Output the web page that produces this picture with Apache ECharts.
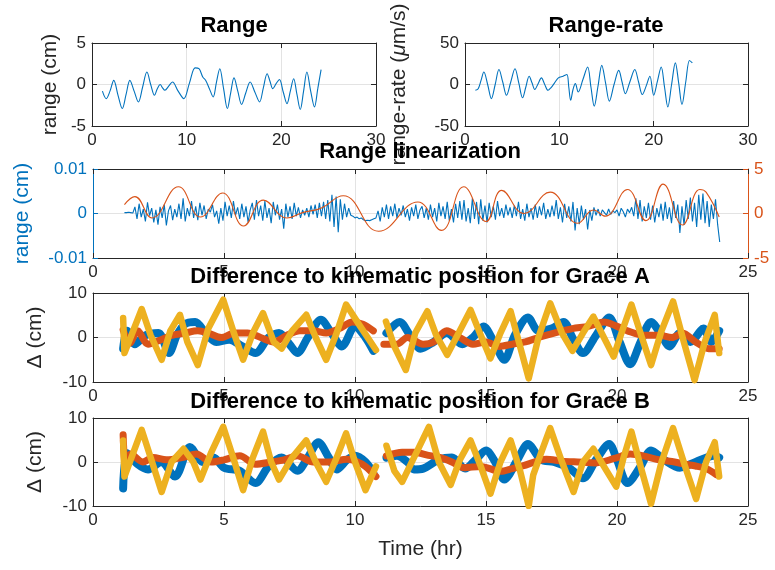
<!DOCTYPE html>
<html><head><meta charset="utf-8">
<script src="https://cdn.jsdelivr.net/npm/echarts@6/dist/echarts.min.js"></script>
<style>html,body{margin:0;padding:0;background:#fff}#c{width:775px;height:570px}</style>
</head><body><div id="c"></div>
<script>
// ---------- Panel 1: Range (cm) ----------
const rangeT = [1.1,1.5,1.9,2.3,2.75,3.2,3.6,4.0,4.45,4.9,5.35,5.8,6.2,6.6,6.9,7.2,7.45,7.7,8.1,8.5,9.1,9.7,10.3,10.9,11.3,11.7,12.0,12.4,12.8,13.15,13.5,13.9,14.3,14.65,15.0,15.4,15.8,16.25,16.7,17.2,17.7,18.1,18.5,18.8,19.1,19.45,19.8,20.2,20.6,20.95,21.3,21.65,22.0,22.35,22.7,23.1,23.5,23.85,24.2];
const rangeV = [-0.8,-1.7,-0.8,0.5,-1.3,-2.9,-1.2,0.5,-0.8,-2.1,-0.3,1.5,0.0,-1.3,-0.5,0.0,-0.4,-0.7,-0.2,0.3,-0.8,-1.7,0.2,2.0,1.9,0.9,0.5,-0.5,-1.5,0.3,1.9,-0.5,-2.9,-1.0,0.8,-0.8,-2.4,-1.0,0.3,-0.9,-2.1,-0.4,1.3,0.4,-0.5,0.1,0.6,-0.9,-2.3,-0.8,0.7,-1.2,-3.0,-0.8,1.5,-0.8,-2.7,-0.5,1.8];

// ---------- Panel 2: Range-rate (um/s) ----------
const rateT = [1.1,1.4,1.7,2.0,2.4,2.8,3.2,3.6,4.0,4.4,4.85,5.3,5.7,6.1,6.45,6.8,7.1,7.4,7.75,8.1,8.45,8.8,9.1,9.5,9.9,10.4,10.8,11.0,11.2,11.45,11.7,12.0,12.5,13.0,13.35,13.7,14.1,14.5,14.9,15.3,15.8,16.3,16.65,17.0,17.5,18.0,18.4,18.8,19.2,19.6,20.0,20.4,20.8,21.15,21.5,21.9,22.3,22.65,23.0,23.4,23.8,24.1];
const rateV = [-7,-5,5,15,0,-17,0,18,3,-13,3,19,2,-16,-3,10,2,-6,1,8,0,-7,-4,2,8,10,12,-3,-19,-6,1,-9,6,21,-3,-26,-2,23,2,-20,0,17,3,-11,4,18,3,-12,-2,10,-13,4,21,-3,-27,0,26,2,-24,3,29,26];

// ---------- Panel 3: Range linearization ----------
const linStartT = 1.2, linStepT = 0.08;
const linRangeV = [
 0.0002,0.0002,0.0003,0.0002,0.0001,
 0.0015,-0.0012,0.0022,-0.0008,0.0010,-0.0018,0.0025,-0.0005,0.0012,-0.0020,
 0.0008,-0.0025,0.0015,-0.0010,0.0020,-0.0027,0.0006,0.0018,-0.0015,0.0010,
 -0.0008,0.0022,-0.0012,0.0034,-0.0018,0.0012,-0.0006,0.0028,-0.0010,0.0016,
 -0.0015,0.0024,-0.0004,0.0018,-0.0012,0.0010,0.0003,0.0020,-0.0008,0.0006,
 -0.0023,0.0012,-0.0016,0.0026,-0.0006,0.0018,-0.0010,0.0028,-0.0004,0.0014,
 -0.0012,0.0022,-0.0008,0.0016,-0.0020,0.0008,0.0024,-0.0014,0.0030,-0.0006,
 0.0018,-0.0016,0.0028,-0.0010,0.0012,-0.0022,0.0026,-0.0004,0.0020,-0.0014,
 0.0010,-0.0034,0.0022,-0.0008,0.0016,-0.0012,0.0024,-0.0006,0.0014,-0.0010,
 0.0008,-0.0004,0.0012,-0.0008,0.0018,-0.0002,0.0020,-0.0010,0.0024,-0.0006,
 0.0026,-0.0012,0.0030,-0.0018,0.0042,-0.0030,0.0038,-0.0042,0.0032,-0.0014,
 0.0022,-0.0008,0.0012,-0.0004,-0.0006,-0.0010,-0.0008,-0.0012,-0.0010,-0.0014,
 -0.0016,-0.0015,-0.0016,-0.0014,-0.0012,-0.0010,0.0006,-0.0018,0.0014,-0.0008,
 0.0020,-0.0012,0.0016,-0.0006,0.0022,-0.0010,0.0012,-0.0004,0.0018,-0.0008,
 0.0010,-0.0016,0.0014,-0.0006,0.0020,-0.0012,0.0008,0.0016,-0.0010,0.0012,
 -0.0014,0.0020,-0.0008,0.0012,-0.0018,0.0024,-0.0006,0.0016,-0.0012,0.0026,
 -0.0016,0.0010,-0.0020,0.0022,-0.0010,0.0028,-0.0014,0.0030,-0.0018,0.0012,
 -0.0022,0.0034,-0.0012,0.0026,-0.0024,0.0032,-0.0016,0.0018,-0.0020,0.0024,
 -0.0008,0.0016,-0.0014,0.0028,-0.0006,0.0012,-0.0010,0.0020,-0.0004,0.0014,
 -0.0010,0.0018,-0.0006,0.0026,-0.0012,0.0010,-0.0016,0.0022,-0.0008,0.0012,
 -0.0014,0.0020,-0.0010,0.0016,-0.0004,0.0024,-0.0012,0.0010,-0.0008,0.0018,
 -0.0006,0.0030,-0.0012,0.0014,-0.0020,0.0022,-0.0010,0.0016,-0.0018,0.0026,
 -0.0038,0.0012,-0.0024,0.0018,-0.0014,0.0010,-0.0036,0.0008,-0.0016,0.0014,
 -0.0004,0.0010,-0.0006,0.0008,0.0002,-0.0004,0.0010,-0.0002,0.0006,0.0002,
 0.0008,-0.0006,0.0012,0.0004,-0.0008,0.0010,0.0002,0.0014,-0.0006,0.0034,
 -0.0012,0.0030,-0.0018,0.0016,-0.0010,0.0024,-0.0014,0.0018,-0.0020,0.0012,
 -0.0008,0.0022,-0.0016,0.0026,-0.0012,0.0014,-0.0022,0.0028,-0.0010,0.0020,
 -0.0044,0.0016,-0.0026,0.0030,-0.0012,0.0036,-0.0018,0.0024,-0.0030,0.0042,
 -0.0014,0.0045,-0.0022,0.0028,-0.0030,0.0020,-0.0012,0.0032,-0.0024,-0.0064];
const linRefT = [1.2,1.6,2.25,3.26,4.1,4.95,5.75,6.5,7.4,8.0,8.7,9.55,10.9,12.4,13.3,14.15,15.0,15.6,16.45,17.45,18.5,19.1,19.55,20.4,21.1,21.76,22.5,23.16,23.4,23.9];
const linRefV = [1.0,1.9,-0.5,3.0,-0.4,2.3,-1.4,1.5,-0.5,0.1,0.6,2.0,-2.0,1.3,-1.9,3.0,-0.9,2.6,0.0,2.4,-1.1,0.4,-0.3,2.7,-0.8,3.3,-1.3,2.7,2.4,-0.4];

// ---------- Panel 4: Grace A differences (cm) ----------
const gaBlueT = [1.15,1.3,1.6,2.0,2.5,2.9,3.2,3.5,3.9,4.3,4.7,5.2,5.7,6.2,6.7,7.1,7.5,7.8,8.2,8.7,9.1,9.5,10.0,10.4,10.7,11.0,11.2,11.7,12.1,12.5,13.0,13.5,14.1,14.5,14.9,15.3,15.7,16.1,16.6,17.0,17.5,17.96,18.3,18.7,19.2,19.7,20.1,20.5,20.9,21.3,21.7,22.0,22.4,22.8,23.3,23.6,23.9];
const gaBlueV = [-2.5,1.5,-1.5,0.5,1.0,-3.5,0.5,3.0,3.5,1.0,-1.0,-0.5,-2.0,-3.5,0.0,1.0,-1.5,-3.5,0.0,4.0,1.0,-2.0,2.5,0.0,-3.0,null,1.0,3.5,0.5,-2.5,-1.0,1.0,-1.5,0.0,2.5,-1.0,-5.0,0.5,4.5,1.5,2.0,3.5,0.0,-3.5,0.5,4.5,-1.0,-6.0,-1.0,3.5,0.5,-2.0,1.0,-1.0,2.0,-1.0,1.5];
const gaOrangeT = [1.15,1.4,1.7,2.1,2.6,3.0,3.5,4.0,4.4,4.9,5.4,5.9,6.4,6.9,7.4,7.9,8.4,8.9,9.4,9.9,10.3,10.7,11.0,11.1,11.6,12.0,12.6,13.0,13.5,14.0,14.5,15.0,15.5,16.0,16.5,17.0,17.6,18.3,18.9,19.5,20.0,20.4,21.0,21.6,22.1,22.5,23.0,23.5,23.9];
const gaOrangeV = [1.7,-1.3,1.5,-1.5,-0.5,0.5,1.0,1.5,1.0,0.0,1.0,1.0,0.0,-1.0,0.5,1.5,1.5,1.0,2.0,3.5,3.0,1.5,null,-1.5,-1.5,0.0,-1.5,-1.0,1.5,0.0,-1.5,-1.0,-2.0,-1.5,-1.0,0.0,1.0,2.0,2.5,3.5,2.5,1.5,0.5,0.5,0.0,1.0,-1.0,-2.5,-2.5];
const gaYellowT = [1.15,1.2,1.5,1.86,2.2,2.62,2.95,3.32,3.6,4.0,4.4,4.97,5.35,5.73,6.1,6.49,6.9,7.2,7.6,8.14,8.5,8.9,9.3,9.66,10.2,10.8,11.0,11.18,11.5,11.94,12.3,12.76,13.1,13.52,14.0,14.41,14.8,15.17,15.55,15.94,16.3,16.63,17.0,17.45,17.9,18.3,18.7,19.1,19.5,19.87,20.2,20.55,20.95,21.3,21.7,22.14,22.55,22.96,23.35,23.73,23.9];
const gaYellowV = [4.4,-3.5,1.0,6.4,0.5,-5.0,1.5,5.1,-1.0,-6.2,2.0,8.5,1.5,-5.0,1.0,5.5,-1.0,-2.5,1.5,5.1,0.0,-5.0,1.0,7.4,2.5,-2.8,null,3.6,-2.0,-7.3,1.0,5.9,0.5,-3.9,1.5,6.2,0.5,-4.7,1.0,5.9,-2.0,-9.2,0.0,7.7,1.0,-3.0,1.0,4.7,0.0,-4.3,1.5,7.4,0.0,-6.2,1.5,8.1,-1.0,-9.6,-1.0,5.1,-3.5];

// ---------- Panel 5: Grace B differences (cm) ----------
const gbBlueT = [1.15,1.3,1.7,2.1,2.6,3.13,3.7,4.2,4.6,5.0,5.6,6.2,6.7,7.2,7.8,8.2,8.6,9.0,9.3,9.7,10.0,10.4,10.7,11.0,11.2,11.6,12.0,12.25,12.6,13.2,13.7,14.2,14.6,15.0,15.35,15.7,16.2,16.6,17.1,17.6,18.2,18.7,19.2,19.7,20.0,20.4,20.9,21.3,21.8,22.4,23.0,23.7,23.9];
const gbBlueV = [-6.0,2.0,-0.5,-1.7,0.0,-3.3,3.4,0.0,1.0,-1.3,-2.0,-4.8,-1.0,1.0,-2.0,1.0,4.5,1.0,-1.7,0.5,1.4,0.0,-2.5,null,1.0,1.4,0.0,-1.7,-1.5,0.5,1.0,-1.5,0.5,2.6,0.0,-4.0,0.5,4.1,0.5,0.0,-1.5,-3.7,0.5,4.1,0.5,-4.8,-1.0,2.6,0.5,-1.3,0.0,1.4,1.0];
const gbOrangeT = [1.15,1.25,1.45,1.9,2.3,2.8,3.4,3.95,4.5,5.0,5.6,6.2,6.8,7.3,7.8,8.4,9.0,9.7,10.1,10.4,10.8,11.0,11.2,11.8,12.25,12.8,13.27,13.7,14.16,14.8,15.55,16.0,16.4,17.3,17.9,18.5,19.2,19.9,20.5,21.0,21.6,22.2,22.6,23.0,23.4,23.8];
const gbOrangeV = [6.2,-1.0,1.8,0.0,1.0,0.5,1.0,1.8,0.0,0.5,1.4,-0.5,0.0,0.5,1.4,0.0,0.0,0.6,0.0,-1.0,-3.3,null,1.4,2.2,2.2,1.5,1.0,0.0,-1.3,-1.0,-2.1,-1.5,-0.9,0.6,0.2,0.0,-0.2,0.8,1.8,1.4,0.5,0.0,-0.5,-0.9,-1.5,-2.9];
const gbYellowT = [1.15,1.2,1.5,1.86,2.2,2.62,3.0,3.46,3.83,4.1,4.5,4.97,5.35,5.73,6.1,6.49,6.8,7.1,7.6,8.14,8.5,8.9,9.3,9.66,10.0,10.4,10.8,11.0,11.2,11.5,11.8,12.25,12.82,13.2,13.65,14.0,14.41,14.8,15.17,15.55,15.94,16.3,16.63,16.8,17.1,17.45,17.9,18.34,18.7,19.1,19.5,19.97,20.25,20.55,20.9,21.3,21.7,22.14,22.6,23.02,23.4,23.73,23.9];
const gbYellowV = [4.9,-3.3,1.5,7.3,1.0,-6.8,0.0,3.0,0.0,-4.0,2.0,8.0,1.0,-6.4,1.0,6.9,0.0,-4.0,1.0,4.9,0.0,-4.5,1.0,6.5,0.0,-6.4,-1.0,null,3.7,-2.0,-4.5,1.0,8.0,0.0,-5.2,0.5,4.9,-1.0,-7.2,0.0,4.9,-2.0,-10.0,-3.0,2.0,7.7,0.0,-6.8,0.0,3.0,-1.0,-5.6,1.0,6.9,-1.0,-9.5,0.0,7.7,-1.0,-8.4,0.0,4.5,-3.3];

const BLUE='#0072BD', ORANGE='#D95319', YELLOW='#EDB120', AX='#262626', GRIDC='#e3e3e3';
const FONT='"Liberation Sans", Arial, Helvetica, sans-serif';
const TICK_FS = 17, NAME_FS = 21, TITLE_FS = 22;

function pairs(t, v){ return t.map((x,i)=>[x, v[i]===null ? '-' : v[i]]); }
const linPairs = linRangeV.map((v,i)=>[+(linStartT + i*linStepT).toFixed(3), v]);

const grids = [
  {left:92, top:43, width:284, height:83},
  {left:465, top:43, width:283, height:83},
  {left:93, top:169, width:655, height:89},
  {left:93, top:293, width:655, height:89},
  {left:93, top:418, width:655, height:88}
];
const xr = [
  {min:0,max:30,interval:10},
  {min:0,max:30,interval:10},
  {min:0,max:25,interval:5},
  {min:0,max:25,interval:5},
  {min:0,max:25,interval:5}
];
const xAxes = [], yAxes = [];
grids.forEach((g,i)=>{
  xAxes.push({type:'value', gridIndex:i, position:'bottom', min:xr[i].min, max:xr[i].max, interval:xr[i].interval,
    axisLine:{onZero:false, lineStyle:{color:AX, width:1}},
    axisTick:{inside:true, length:5, lineStyle:{color:AX}},
    axisLabel:{color:AX, fontFamily:FONT, fontSize:TICK_FS, margin:6},
    splitLine:{show:true, lineStyle:{color:GRIDC, width:1}}});
  xAxes.push({type:'value', gridIndex:i, position:'top', min:xr[i].min, max:xr[i].max, interval:xr[i].interval,
    axisLine:{onZero:false, lineStyle:{color:AX, width:1}},
    axisTick:{inside:true, length:5, lineStyle:{color:AX}},
    axisLabel:{show:false}, splitLine:{show:false}});
});
xAxes[8].name = 'Time (hr)';
xAxes[8].nameLocation = 'middle';
xAxes[8].nameGap = 33;
xAxes[8].nameTextStyle = {color:AX, fontFamily:FONT, fontSize:NAME_FS};

function yPair(gi, min, max, interval, name, gap, leftColor, rightColor, rightLabels){
  yAxes.push({type:'value', gridIndex:gi, position:'left', min, max, interval,
    name, nameLocation:'middle', nameGap:gap,
    nameTextStyle:{color:leftColor, fontFamily:FONT, fontSize:NAME_FS,
      rich:{n:{color:leftColor, fontFamily:FONT, fontSize:NAME_FS}, i:{color:leftColor, fontFamily:FONT, fontSize:NAME_FS, fontStyle:'italic'}}},
    axisLine:{onZero:false, lineStyle:{color:leftColor}},
    axisTick:{inside:true, length:5, lineStyle:{color:leftColor}},
    axisLabel:{color:leftColor, fontFamily:FONT, fontSize:TICK_FS, margin:6},
    splitLine:{show:true, lineStyle:{color:GRIDC}}});
  yAxes.push(Object.assign({type:'value', gridIndex:gi, position:'right',
    axisLine:{onZero:false, lineStyle:{color:rightColor}},
    axisTick:{inside:true, length:5, lineStyle:{color:rightColor}},
    axisLabel:{show:!!rightLabels, color:rightColor, fontFamily:FONT, fontSize:TICK_FS, margin:6},
    splitLine:{show:false}}, rightLabels || {min, max, interval}));
}
yPair(0,-5,5,5,'range (cm)',31,AX,AX,null);
yPair(1,-50,50,50,'{n|range-rate (}{i|\u03bc}{n|m/s)}',55,AX,AX,null);
yPair(2,-0.01,0.01,0.01,'range (cm)',60,BLUE,ORANGE,{min:-5,max:5,interval:5});
yPair(3,-10,10,10,'\u0394 (cm)',47,AX,AX,null);
yPair(4,-10,10,10,'\u0394 (cm)',47,AX,AX,null);

function thin(data, xi, yi, color, smooth){
  return {type:'line', xAxisIndex:xi, yAxisIndex:yi, data, symbol:'none', smooth:smooth||false,
    lineStyle:{color, width:1.1}, itemStyle:{color}, silent:true, animation:false};
}
function thick(data, xi, yi, color, w, smooth){
  return {type:'line', xAxisIndex:xi, yAxisIndex:yi, data, symbol:'none', connectNulls:false, smooth:smooth||false,
    lineStyle:{color, width:w, cap:'round', join:'round'}, itemStyle:{color}, silent:true, animation:false};
}

const series = [
  thin(pairs(rangeT, rangeV), 0, 0, BLUE, 0.35),
  thin(pairs(rateT, rateV), 2, 2, BLUE, 0.35),
  thin(linPairs, 4, 4, BLUE, false),
  thin(pairs(linRefT, linRefV), 4, 5, ORANGE, 0.45),
  thick(pairs(gaBlueT, gaBlueV), 6, 6, BLUE, 8, 0.3),
  thick(pairs(gaOrangeT, gaOrangeV), 6, 6, ORANGE, 7, 0.3),
  thick(pairs(gaYellowT, gaYellowV), 6, 6, YELLOW, 6.5, false),
  thick(pairs(gbBlueT, gbBlueV), 8, 8, BLUE, 8, 0.3),
  thick(pairs(gbOrangeT, gbOrangeV), 8, 8, ORANGE, 7, 0.3),
  thick(pairs(gbYellowT, gbYellowV), 8, 8, YELLOW, 6.5, false)
];

const titleFont = 'bold ' + TITLE_FS + 'px ' + FONT;
function ttl(text, x, y){
  return {type:'text', x, y, z:100, style:{text, x:0, y:0, textAlign:'center', textVerticalAlign:'middle', font:titleFont, fill:'#000'}};
}

const chart = echarts.init(document.getElementById('c'), null, {renderer:'canvas'});
chart.setOption({
  backgroundColor:'#fff',
  animation:false,
  grid: grids,
  xAxis: xAxes,
  yAxis: yAxes,
  series,
  graphic: [
    ttl('Range', 234, 26),
    ttl('Range-rate', 606, 26),
    ttl('Range linearization', 420, 152),
    ttl('Difference to kinematic position for Grace A', 420, 277),
    ttl('Difference to kinematic position for Grace B', 420, 402)
  ]
});
</script></body></html>
